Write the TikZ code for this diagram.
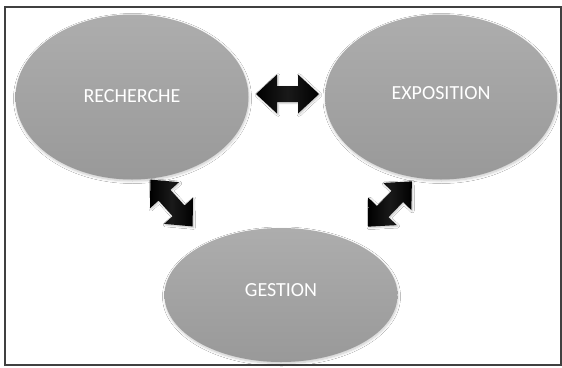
\documentclass[tikz,border=0pt]{standalone}
\usepackage{fontspec}
\setmainfont{Carlito}
\usetikzlibrary{shapes.geometric,shadows.blur}
\definecolor{ellgrayA}{HTML}{ADADAD}
\definecolor{ellgrayB}{HTML}{999999}
\definecolor{framegray}{HTML}{404040}
\tikzset{
  bubble/.style={ellipse, inner sep=0pt, top color=ellgrayA, bottom color=ellgrayB, draw=none,
    blur shadow={shadow blur steps=8, shadow xshift=0.5pt, shadow yshift=-1.5pt, shadow blur radius=2.5pt, shadow opacity=22},
    text=white, font=\fontsize{20}{24}\selectfont},
  arrowfill/.style={left color=black, right color=black, middle color=black!90!white,
    blur shadow={shadow blur steps=4, shadow xshift=1pt, shadow yshift=-1pt, shadow opacity=25}},
  labeltext/.style={text=white, font=\fontsize{20}{24}\selectfont},
  dblarr/.pic={\path[arrowfill] (-31.5,0) -- (-10.5,19.5) -- (-10.5,8) -- (10.5,8) -- (10.5,19.5)
     -- (31.5,0) -- (10.5,-19.5) -- (10.5,-8) -- (-10.5,-8) -- (-10.5,-19.5) -- cycle;}
}
\begin{document}
\begin{tikzpicture}[x=1pt,y=-1pt]
\useasboundingbox (0,0) rectangle (562,367);
\fill[white] (0,0) rectangle (562,367);
\draw[framegray, line width=1.2pt] (5,7) rectangle (561,365);
\node[bubble, minimum width=233pt, minimum height=165pt] (rech) at (132,97) {};
\node[bubble, minimum width=232pt, minimum height=165pt] (expo) at (441,97) {};
\node[bubble, minimum width=233pt, minimum height=134pt] (gest) at (281,295) {};
\node[labeltext] (trech) at (132,96) {RECHERCHE};
\node[labeltext] (texpo) at (441,93) {EXPOSITION};
\node[labeltext] (tgest) at (281,290) {GESTION};
\coordinate (a1) at (287.5,94);
\coordinate (a2) at (171.5,203);
\coordinate (a3) at (390,204);
\pic at (a1) {dblarr};
\pic[rotate=-48] at (a2) {dblarr};
\pic[rotate=46] at (a3) {dblarr};
\end{tikzpicture}
\end{document}
